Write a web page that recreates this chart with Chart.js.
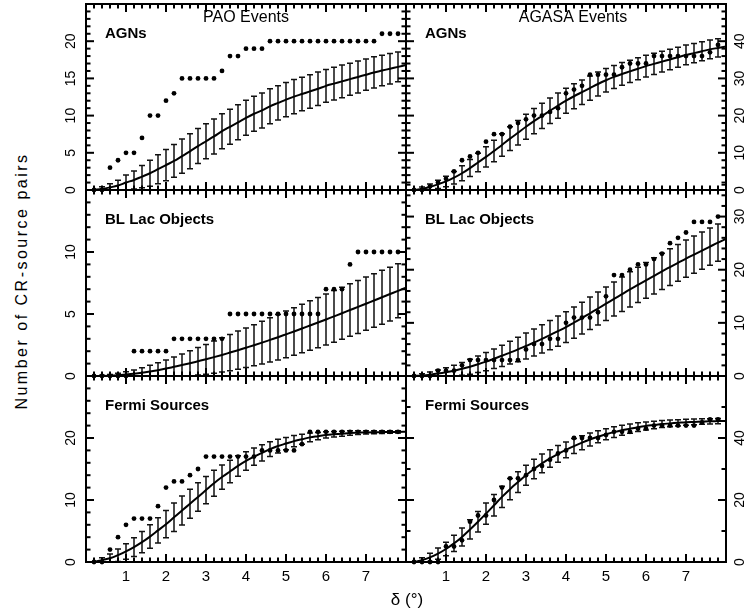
<!DOCTYPE html>
<html>
<head>
<meta charset="utf-8">
<script src="https://cdn.jsdelivr.net/npm/chart.js@4.4.1/dist/chart.umd.min.js"></script>
<style>
  body { margin: 0; background: #fff; }
  #wrap { position: relative; width: 745px; height: 613px; overflow: hidden; background: #fff; }
  canvas { position: absolute; }
  .lbl { position: absolute; font-family: "Liberation Sans", Arial, sans-serif; color: #000; white-space: nowrap; line-height: 1; }
</style>
</head>
<body>
<div id="wrap">
  <canvas id="c1" width="376" height="196" style="left:36px;top:0px"></canvas>
  <canvas id="c2" width="345" height="196" style="left:400px;top:0px"></canvas>
  <canvas id="c3" width="376" height="198" style="left:36px;top:184px"></canvas>
  <canvas id="c4" width="345" height="198" style="left:400px;top:184px"></canvas>
  <canvas id="c5" width="376" height="243" style="left:36px;top:370px"></canvas>
  <canvas id="c6" width="345" height="243" style="left:400px;top:370px"></canvas>
  <div class="lbl" id="ylab" style="left:22px;top:281px;font-size:16px;letter-spacing:2.5px;transform:translate(-50%,-50%) rotate(-90deg)">Number of CR-source pairs</div>
  <div class="lbl" id="xlab" style="left:407px;top:599px;font-size:17px;transform:translate(-50%,-50%)">δ (°)</div>
</div>
<script>
// separation angle (degrees)
const delta = [0.2,0.4,0.6,0.8,1.0,1.2,1.4,1.6,1.8,2.0,2.2,2.4,2.6,2.8,3.0,3.2,3.4,3.6,3.8,4.0,
               4.2,4.4,4.6,4.8,5.0,5.2,5.4,5.6,5.8,6.0,6.2,6.4,6.6,6.8,7.0,7.2,7.4,7.6,7.8,8.0];

// PAO events
const paoAgnObs = [0,0,3,4,5,5,7,10,10,12,13,15,15,15,15,15,16,18,18,19,19,19,20,20,20,20,20,20,20,20,20,20,20,20,20,20,21,21,21];
const paoAgnModel = [0.05,0.15,0.35,0.6,1.0,1.35,1.8,2.25,2.8,3.35,3.9,4.55,5.2,5.9,6.55,7.2,7.9,8.5,9.1,9.7,
                     10.25,10.7,11.25,11.7,12.15,12.55,12.9,13.25,13.6,14.0,14.3,14.6,14.9,15.2,15.5,15.8,16.05,16.3,16.55,16.8];
const paoAgnErr = [0,0.3,0.5,0.7,1.0,1.2,1.5,1.75,1.95,2.1,2.2,2.3,2.35,2.35,2.35,2.35,2.35,2.35,2.35,2.35,
                   2.35,2.35,2.35,2.3,2.3,2.3,2.25,2.25,2.25,2.2,2.2,2.2,2.15,2.15,2.1,2.1,2.05,2.05,2.0];

const paoBlObs = [0,0,0,0,0,2,2,2,2,2,3,3,3,3,3,3,3,5,5,5,5,5,5,5,5,5,5,5,5,7,7,7,9,10,10,10,10,10,10];
const paoBlModel = [0,0.01,0.03,0.07,0.12,0.18,0.26,0.36,0.47,0.6,0.74,0.88,1.03,1.19,1.35,1.52,1.7,1.89,2.08,2.28,
                    2.48,2.69,2.91,3.13,3.36,3.59,3.83,4.07,4.31,4.56,4.81,5.06,5.32,5.57,5.83,6.09,6.35,6.61,6.87,7.12];
const paoBlErr = [0,0.05,0.1,0.15,0.22,0.3,0.4,0.5,0.6,0.7,0.8,0.9,1.0,1.1,1.2,1.3,1.38,1.46,1.54,1.6,
                  1.66,1.72,1.78,1.83,1.88,1.92,1.96,2.0,2.03,2.06,2.08,2.1,2.12,2.14,2.15,2.16,2.17,2.17,2.18];

const paoFermiObs = [0,0,2,4,6,7,7,7,9,12,13,13,14,15,17,17,17,17,17,17,17,18,18,18,18,18,19,21,21,21,21,21,21,21,21,21,21,21,21];
const paoFermiModel = [0,0.3,0.6,1.1,1.7,2.4,3.2,4.1,5.1,6.1,7.2,8.3,9.4,10.5,11.6,12.7,13.7,14.6,15.5,16.3,
                       17.0,17.6,18.2,18.7,19.1,19.5,19.8,20.1,20.3,20.5,20.6,20.7,20.8,20.85,20.9,20.93,20.95,20.97,20.98,21.0];
const paoFermiErr = [0,0.4,0.7,1.0,1.25,1.5,1.7,1.9,2.05,2.2,2.3,2.35,2.35,2.3,2.2,2.1,1.95,1.8,1.65,1.5,
                     1.4,1.3,1.2,1.1,1.0,0.9,0.8,0.7,0.6,0.52,0.45,0.4,0.35,0.3,0.27,0.24,0.22,0.2,0.18];

// AGASA events
const agasaAgnObs = [0,0,1,2,3,5,8,9,10,13,15,15,17,18,19,20,20,21,22,26,27,28,31,31,31,31,33,34,34,34,36,36,36,36,36,36,36,37,39];
const agasaAgnModel = [0,0.3,0.8,1.5,2.3,3.3,4.5,5.9,7.4,8.9,10.5,12.1,13.8,15.4,17.0,18.5,19.9,21.3,22.7,24.0,
                       25.2,26.3,27.4,28.5,29.5,30.4,31.2,31.9,32.6,33.3,33.9,34.5,35.1,35.7,36.3,36.8,37.3,37.8,38.2,38.6];
const agasaAgnErr = [0,0.5,0.8,1.1,1.4,1.7,2.0,2.3,2.5,2.7,2.9,3.05,3.2,3.3,3.35,3.4,3.4,3.4,3.4,3.38,
                     3.35,3.3,3.25,3.2,3.15,3.1,3.05,3.0,2.95,2.9,2.85,2.8,2.75,2.7,2.65,2.6,2.55,2.5,2.45];

const agasaBlObs = [0,0,0,1,1,1,2,3,3,3,3,3,3,3,5,6,6,7,7,10,11,11,11,12,15,19,19,20,21,21,22,23,25,26,27,29,29,29,30];
const agasaBlModel = [0,0.1,0.25,0.45,0.7,1.0,1.35,1.75,2.2,2.7,3.25,3.8,4.4,5.0,5.65,6.3,7.0,7.7,8.45,9.2,
                      10.05,10.9,11.8,12.7,13.6,14.5,15.4,16.3,17.15,18.0,18.85,19.7,20.5,21.3,22.1,22.85,23.6,24.35,25.1,25.8];
const agasaBlErr = [0,0.3,0.5,0.7,0.85,1.0,1.2,1.4,1.55,1.7,1.85,2.0,2.15,2.3,2.45,2.55,2.65,2.75,2.85,2.9,
                    2.95,3.0,3.05,3.1,3.15,3.2,3.25,3.3,3.3,3.35,3.4,3.4,3.45,3.45,3.5,3.5,3.5,3.5,3.5];

const agasaFermiObs = [0,0,0,0,5,5,7,13,15,15,20,24,27,27,28,30,31,33,35,36,40,40,40,40,41,42,42,42,43,43,44,44,44,44,44,44,45,46,46];
const agasaFermiModel = [0,0.6,1.5,2.7,4.2,6.0,8.1,10.5,13.0,15.6,18.3,21.0,23.5,25.8,28.0,30.0,31.8,33.4,34.9,36.2,
                         37.4,38.5,39.5,40.4,41.2,41.9,42.5,43.0,43.5,43.9,44.2,44.5,44.7,44.9,45.1,45.2,45.3,45.4,45.45,45.5];
const agasaFermiErr = [0,0.8,1.3,1.8,2.2,2.6,2.9,3.1,3.3,3.4,3.45,3.45,3.4,3.35,3.25,3.15,3.0,2.85,2.7,2.55,
                       2.4,2.25,2.1,1.95,1.8,1.7,1.6,1.5,1.4,1.3,1.22,1.15,1.08,1.02,0.97,0.92,0.88,0.85,0.82];

Chart.defaults.font.family = '"Liberation Sans", Arial, sans-serif';
Chart.defaults.color = '#000';

// inward tick marks on both sides of the box (PGPLOT style)
function drawTicks(ctx, scale, area, minor, major, horizontal) {
  const n = Math.round((scale.max - scale.min) / minor);
  for (let k = 0; k <= n; k++) {
    const v = scale.min + k * minor;
    const r = v / major;
    const len = Math.abs(r - Math.round(r)) < 1e-6 ? 8 : 4.5;
    const p = scale.getPixelForValue(v);
    if (horizontal) {
      ctx.fillRect(p - 1, area.bottom - len, 2, len);
      ctx.fillRect(p - 1, area.top, 2, len);
    } else {
      ctx.fillRect(area.left, p - 1, len, 2);
      ctx.fillRect(area.right - len, p - 1, len, 2);
    }
  }
}

const framePlugin = {
  id: 'frame',
  beforeDatasetsDraw(chart, args, opts) {
    const {ctx, scales: {x, y}} = chart;
    ctx.save();
    ctx.strokeStyle = '#111';
    ctx.lineWidth = 1.5;
    ctx.beginPath();
    opts.err.forEach((e, i) => {
      if (!e) return;
      const px = x.getPixelForValue(delta[i]);
      const top = y.getPixelForValue(opts.model[i] + e);
      const lo = opts.model[i] - e;
      const bot = y.getPixelForValue(Math.max(0, lo));
      ctx.moveTo(px, top); ctx.lineTo(px, bot);
      ctx.moveTo(px - 3, top); ctx.lineTo(px + 3, top);
      if (lo > 0) { ctx.moveTo(px - 3, bot); ctx.lineTo(px + 3, bot); }
    });
    ctx.stroke();
    ctx.restore();
  },
  afterDraw(chart, args, opts) {
    const {ctx, chartArea: a, scales: {x, y}} = chart;
    ctx.save();
    ctx.fillStyle = '#000';
    drawTicks(ctx, x, a, 0.2, 1, true);
    drawTicks(ctx, y, a, opts.yMinor, opts.yMajor, false);
    ctx.strokeStyle = '#000';
    ctx.lineWidth = 2;
    ctx.strokeRect(a.left, a.top, a.right - a.left, a.bottom - a.top);
    ctx.font = 'bold 15px "Liberation Sans", Arial, sans-serif';
    ctx.textAlign = 'left';
    ctx.fillText(opts.label, a.left + 19, a.top + 34);
    if (opts.title) {
      ctx.font = '16px "Liberation Sans", Arial, sans-serif';
      ctx.textAlign = 'center';
      ctx.fillText(opts.title, (a.left + a.right) / 2 + opts.titleDx, a.top + 18);
    }
    ctx.restore();
  }
};

function makePanel(id, cfg) {
  const left = cfg.side === 'left';
  return new Chart(document.getElementById(id), {
    type: 'scatter',
    data: {
      datasets: [
        {
          data: cfg.obs.map((v, i) => ({x: delta[i], y: v})),
          showLine: false, pointRadius: 2.4, pointBorderWidth: 0,
          pointBackgroundColor: '#000', pointBorderColor: '#000', clip: false
        },
        {
          data: cfg.model.map((v, i) => ({x: delta[i], y: v})),
          showLine: true, borderColor: '#000', borderWidth: 2, pointRadius: 0,
          cubicInterpolationMode: 'monotone', clip: false
        }
      ]
    },
    options: {
      responsive: false,
      animation: false,
      events: [],
      layout: {padding: {left: left ? 0 : 6, right: left ? 6 : 0, top: cfg.top, bottom: cfg.bottom}},
      plugins: {
        legend: {display: false},
        tooltip: {enabled: false},
        frame: {err: cfg.err, model: cfg.model, label: cfg.label, title: cfg.title, titleDx: left ? 0 : 7,
                yMinor: cfg.yMinor, yMajor: cfg.yMajor}
      },
      scales: {
        x: {
          type: 'linear', min: 0, max: 8, display: !!cfg.showX,
          grid: {display: false, drawTicks: false}, border: {display: false},
          ticks: {stepSize: 1, autoSkip: false, maxRotation: 0, padding: 6, font: {size: 15},
                  callback: v => (v >= 1 && v <= 7) ? String(v) : ''},
          afterFit: s => { if (cfg.showX) s.height = 30; s.paddingLeft = 0; s.paddingRight = 0; }
        },
        y: {
          type: 'linear', position: cfg.side, min: 0, max: cfg.ymax,
          grid: {display: false, drawTicks: false}, border: {display: false},
          ticks: {stepSize: cfg.yMajor, includeBounds: false, autoSkip: false,
                  minRotation: 90, maxRotation: 90, crossAlign: 'center',
                  padding: left ? 7 : 6, font: {size: 14},
                  callback: v => v < cfg.ymax ? String(v) : ''},
          afterFit: s => { s.width = left ? 50 : 19; s.paddingTop = 0; s.paddingBottom = 0; }
        }
      }
    },
    plugins: [framePlugin]
  });
}

makePanel('c1', {side: 'left', obs: paoAgnObs, model: paoAgnModel, err: paoAgnErr, ymax: 25, yMajor: 5, yMinor: 1,
                 label: 'AGNs', title: 'PAO Events', top: 4, bottom: 6});
makePanel('c2', {side: 'right', obs: agasaAgnObs, model: agasaAgnModel, err: agasaAgnErr, ymax: 50, yMajor: 10, yMinor: 2,
                 label: 'AGNs', title: 'AGASA Events', top: 4, bottom: 6});
makePanel('c3', {side: 'left', obs: paoBlObs, model: paoBlModel, err: paoBlErr, ymax: 15, yMajor: 5, yMinor: 1,
                 label: 'BL Lac Objects', top: 6, bottom: 6});
makePanel('c4', {side: 'right', obs: agasaBlObs, model: agasaBlModel, err: agasaBlErr, ymax: 35, yMajor: 10, yMinor: 2,
                 label: 'BL Lac Objects', top: 6, bottom: 6});
makePanel('c5', {side: 'left', obs: paoFermiObs, model: paoFermiModel, err: paoFermiErr, ymax: 30, yMajor: 10, yMinor: 2,
                 label: 'Fermi Sources', top: 6, bottom: 21, showX: true});
makePanel('c6', {side: 'right', obs: agasaFermiObs, model: agasaFermiModel, err: agasaFermiErr, ymax: 60, yMajor: 20, yMinor: 10,
                 label: 'Fermi Sources', top: 6, bottom: 21, showX: true});
</script>
</body>
</html>
